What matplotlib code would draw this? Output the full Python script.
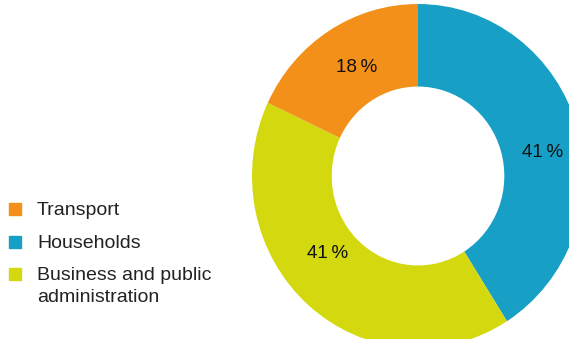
import matplotlib
matplotlib.use("Agg")
import matplotlib.pyplot as plt
from matplotlib.patches import Rectangle
import numpy as np

plt.rcParams['font.family'] = ['Liberation Sans', 'DejaVu Sans']

# Energy use by sector (%)
categories = ["Transport", "Households", "Business and public\nadministration"]
shares = [18, 41, 41]
colors = ["#F39019", "#179FC6", "#D3D80F"]

W, H = 569, 339
fig = plt.figure(figsize=(W / 100, H / 100), dpi=100)

# Donut: centre and radii in pixels (slightly taller than wide)
cx, cy, RX, RY = 418, 176, 166, 172
ax = fig.add_axes([(cx - RX) / W, (H - cy - RY) / H, 2 * RX / W, 2 * RY / H])

# Draw clockwise from 12 o'clock: Households, Business, Transport
order = [1, 2, 0]
vals = [shares[i] for i in order]
cols = [colors[i] for i in order]
wedges, _ = ax.pie(vals, colors=cols, startangle=90, counterclock=False,
                   radius=1.0, wedgeprops=dict(width=0.48, edgecolor='none'))
ax.set_aspect('auto')
ax.set_xlim(-1, 1)
ax.set_ylim(-1, 1)
ax.axis('off')

# Percentage labels inside the ring
label_r = {0: 0.73, 1: 0.76, 2: 0.71}
offsets = {0: -2, 1: -6, 2: -9}
for w, i in zip(wedges, order):
    ang = np.deg2rad((w.theta1 + w.theta2) / 2 + offsets[i])
    ax.text(label_r[i] * np.cos(ang), label_r[i] * np.sin(ang),
            f"{shares[i]}\u2009%", ha='center', va='center',
            fontsize=13.5, color='#111111')

# Legend with square swatches
rows_y = [209, 242, 274]
for name, col, y in zip(categories, colors, rows_y):
    fig.patches.append(Rectangle((9 / W, (H - y - 6) / H), 12 / W, 12 / H,
                                 transform=fig.transFigure, color=col))
    fig.text(37 / W, (H - y + 7) / H, name, ha='left', va='top',
             fontsize=14, color='#222222', linespacing=1.4)

fig.savefig("out.png", dpi=100)
